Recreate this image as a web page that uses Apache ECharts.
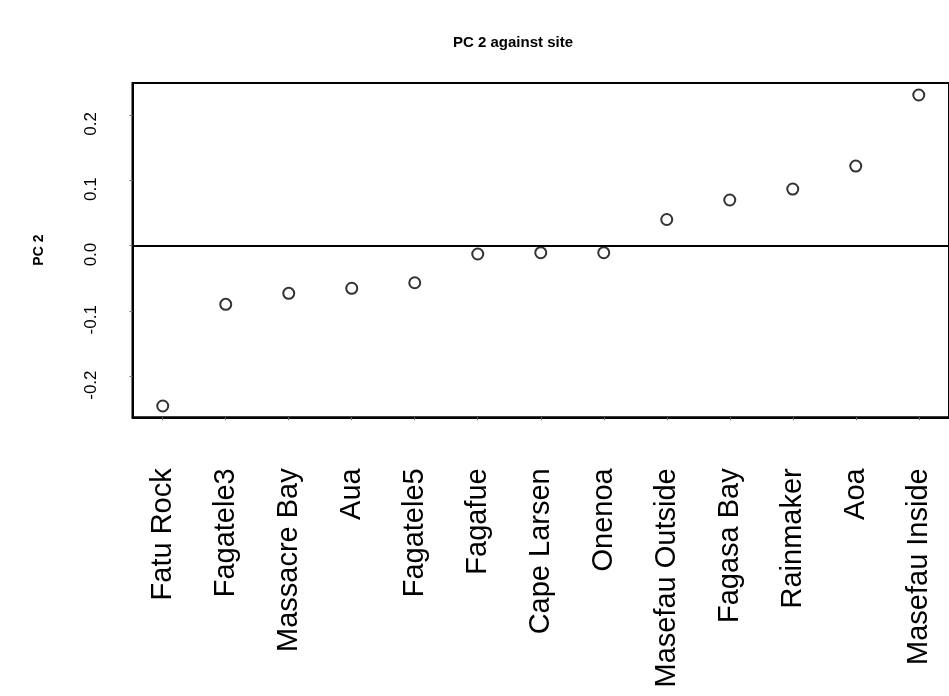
<!DOCTYPE html>
<html>
<head>
<meta charset="utf-8">
<script src="https://cdn.jsdelivr.net/npm/echarts@6/dist/echarts.min.js"></script>
<style>
html,body{margin:0;padding:0;background:#fff;}
#chart{width:949px;height:696px;}
</style>
</head>
<body>
<div id="chart"></div>
<script>
const sites = ["Fatu Rock","Fagatele3","Massacre Bay","Aua","Fagatele5","Fagafue","Cape Larsen","Onenoa","Masefau Outside","Fagasa Bay","Rainmaker","Aoa","Masefau Inside"];
const pc2 = [-0.2458,-0.0901,-0.0732,-0.0655,-0.0570,-0.0130,-0.0110,-0.0110,0.0398,0.0697,0.0865,0.1217,0.2305];
const yTicks = [-0.2,-0.1,0.0,0.1,0.2];
const yTickLabels = ["-0.2","-0.1","0.0","0.1","0.2"];

const positions = sites.map((s,i)=>i+1);
const points = pc2.map((v,i)=>[positions[i], v]);

const chart = echarts.init(document.getElementById('chart'), null, {renderer:'canvas'});
const font = '"Liberation Sans", Arial, Helvetica, sans-serif';
chart.setOption({
  animation:false,
  backgroundColor:'#fff',
  title:{
    text:'PC 2 against site',
    left:448, top:30,
    textStyle:{fontFamily:font,fontSize:15,fontWeight:'bold',color:'#000'}
  },
  grid:{left:132.5, top:83, width:825, height:334.3, show:true, borderColor:'#000', borderWidth:2, backgroundColor:'transparent'},
  xAxis:{
    type:'value', min:0.52, max:13.48,
    axisLine:{show:true, onZero:false, lineStyle:{color:'#000', width:2}},
    axisTick:{show:true, length:3, lineStyle:{color:'#777', width:1}, customValues:positions},
    axisLabel:{show:true, rotate:90, margin:51, fontFamily:font, fontSize:29, color:'#000',
      customValues:positions,
      formatter:function(v){ return sites[Math.round(v)-1]; }},
    splitLine:{show:false}
  },
  yAxis:{
    type:'value', min:-0.2631, max:0.2489,
    name:'PC 2', nameLocation:'middle', nameRotate:90, nameGap:86,
    nameTextStyle:{fontFamily:font,fontSize:14,fontWeight:'bold',color:'#000'},
    axisLine:{show:true, lineStyle:{color:'#000', width:2}},
    axisTick:{show:true, length:3, lineStyle:{color:'#777', width:1}, customValues:yTicks},
    axisLabel:{show:true, rotate:90, margin:33, fontFamily:font, fontSize:17, color:'#000',
      padding:[0,18,0,0],
      customValues:yTicks,
      formatter:function(v){ const i = yTicks.findIndex(t=>Math.abs(t-v)<1e-9); return i>=0?yTickLabels[i]:''; }},
    splitLine:{show:false}
  },
  series:[{
    type:'scatter',
    data:points,
    symbol:'circle', symbolSize:11,
    itemStyle:{color:'#fff', borderColor:'#000', borderWidth:2},
    markLine:{
      silent:true, symbol:'none', label:{show:false},
      lineStyle:{color:'#000', width:2, type:'solid'},
      data:[{yAxis:0}]
    }
  }]
});
</script>
</body>
</html>
